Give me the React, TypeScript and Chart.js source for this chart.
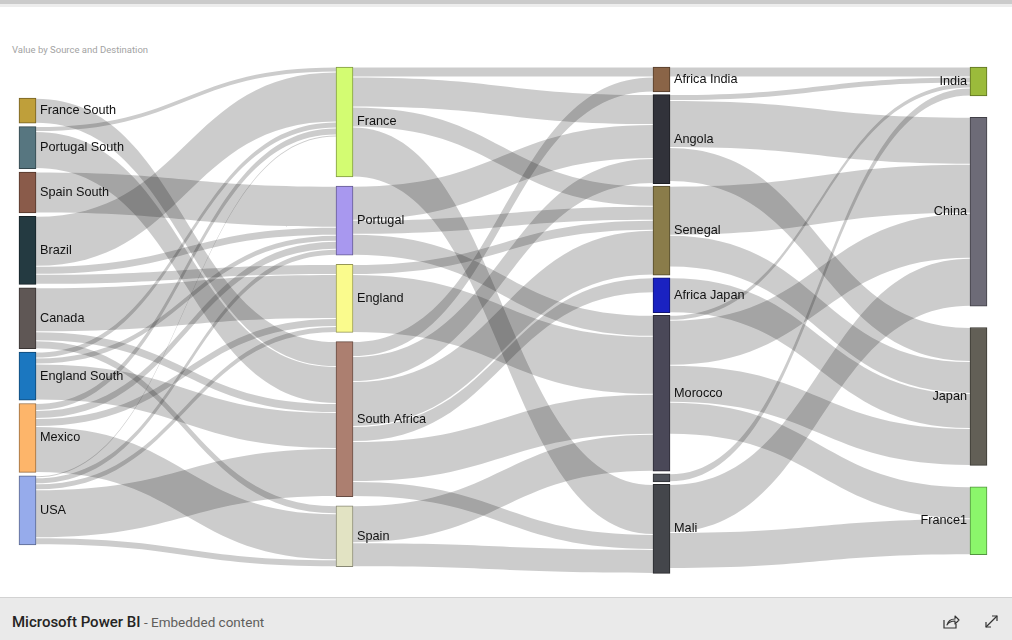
import React, { useEffect, useRef } from "react";
import { Chart, registerables } from "chart.js";

Chart.register(...registerables);

// ---- Nodes (per column, top to bottom) ----
const sourceNodes = ["France South", "Portugal South", "Spain South", "Brazil", "Canada", "England South", "Mexico", "USA"];
const hubNodes = ["France", "Portugal", "England", "South Africa", "Spain"];
const africaNodes = ["Africa India", "Angola", "Senegal", "Africa Japan", "Morocco", "(Blank)", "Mali"];
const destinationNodes = ["India", "China", "Japan", "France1"];

const sourceColors = ["#bf9f3a", "#577680", "#8a5b4a", "#243a41", "#5f5755", "#1b77c0", "#fdb56a", "#96abeb"];
const hubColors = ["#d3fc72", "#a898ef", "#fafb8d", "#ac7f70", "#e2e3c3"];
const africaColors = ["#8a6447", "#31323a", "#8a7c4a", "#1a22c1", "#4a4858", "#4e5159", "#44464b"];
const destinationColors = ["#9bbb3b", "#6d6b77", "#625f56", "#8bf66b"];

// ---- Links: [source, destination, value] ----
const stage1Links: [string, string, number][] = [
  ["France South", "South Africa", 25],
  ["Portugal South", "France", 5],
  ["Portugal South", "South Africa", 37],
  ["Spain South", "Portugal", 41],
  ["Brazil", "France", 50],
  ["Brazil", "Portugal", 8],
  ["Brazil", "England", 10],
  ["Canada", "England", 44],
  ["Canada", "South Africa", 9],
  ["Canada", "Spain", 8],
  ["England South", "France", 6],
  ["England South", "Portugal", 6],
  ["England South", "South Africa", 36],
  ["Mexico", "France", 7],
  ["Mexico", "Portugal", 8],
  ["Mexico", "England", 8],
  ["Mexico", "Spain", 46],
  ["USA", "France", 2],
  ["USA", "Portugal", 6],
  ["USA", "England", 6],
  ["USA", "South Africa", 48],
  ["USA", "Spain", 7],
];

const stage2Links: [string, string, number][] = [
  ["France", "Africa India", 10],
  ["France", "Angola", 30],
  ["France", "Senegal", 20],
  ["France", "Mali", 50],
  ["Portugal", "Angola", 34],
  ["Portugal", "Senegal", 14],
  ["Portugal", "Morocco", 21],
  ["England", "Senegal", 10],
  ["England", "Morocco", 58],
  ["South Africa", "Africa India", 15],
  ["South Africa", "Angola", 25],
  ["South Africa", "Senegal", 45],
  ["South Africa", "Africa Japan", 15],
  ["South Africa", "Morocco", 40],
  ["South Africa", "Mali", 15],
  ["Spain", "Morocco", 37],
  ["Spain", "Mali", 24],
];

const stage3Links: [string, string, number][] = [
  ["Africa India", "India", 10],
  ["Angola", "India", 6],
  ["Angola", "China", 47],
  ["Angola", "Japan", 34],
  ["Senegal", "China", 49],
  ["Senegal", "Japan", 32],
  ["Africa Japan", "Japan", 35],
  ["Morocco", "India", 5],
  ["Morocco", "China", 45],
  ["Morocco", "Japan", 37],
  ["Morocco", "France1", 32],
  ["(Blank)", "India", 8],
  ["Mali", "China", 48],
  ["Mali", "France1", 36],
];

// ---- layout options ----
const columnNames = [sourceNodes, hubNodes, africaNodes, destinationNodes];
const columnColors = [sourceColors, hubColors, africaColors, destinationColors];
const spreadColumns = [false, true, true, true];
const NODE_PAD = 2.6;
const COMPACT_PAD = 3.4;

type SNode = { name: string; col: number; idx: number; color: string; inSum: number; outSum: number; value: number; y0: number; y1: number; };
type SLink = { s: SNode; t: SNode; v: number; sy: number; ty: number };

function darken(hex: string, f = 0.6) {
  const n = parseInt(hex.slice(1), 16);
  const r = Math.round(((n >> 16) & 255) * f), g = Math.round(((n >> 8) & 255) * f), b = Math.round((n & 255) * f);
  return `rgb(${r},${g},${b})`;
}

function buildLayout() {
  const nodes: SNode[] = [];
  const byName: Record<string, SNode> = {};
  columnNames.forEach((names, col) =>
    names.forEach((name, idx) => {
      const nd: SNode = { name, col, idx, color: columnColors[col][idx], inSum: 0, outSum: 0, value: 0, y0: 0, y1: 0 };
      nodes.push(nd);
      byName[name] = nd;
    })
  );
  const links: SLink[] = [...stage1Links, ...stage2Links, ...stage3Links].map(([s, t, v]) => ({ s: byName[s], t: byName[t], v, sy: 0, ty: 0 }));
  links.forEach((l) => { l.s.outSum += l.v; l.t.inSum += l.v; });
  nodes.forEach((n) => (n.value = Math.max(n.inSum, n.outSum)));

  const cols = columnNames.map((_, c) => nodes.filter((n) => n.col === c));
  let H = 0;
  cols.forEach((cn, c) => {
    const S = cn.reduce((a, n) => a + n.value, 0);
    H = Math.max(H, spreadColumns[c] ? S + cn.length * NODE_PAD : S + (cn.length - 1) * COMPACT_PAD);
  });
  cols.forEach((cn, c) => {
    const S = cn.reduce((a, n) => a + n.value, 0);
    let gap: number, y: number;
    if (spreadColumns[c]) { gap = (H - S) / cn.length; y = 0; }
    else { gap = COMPACT_PAD; y = (H - (S + (cn.length - 1) * gap)) / 2; }
    cn.forEach((n) => { n.y0 = y; n.y1 = y + n.value; y = n.y1 + gap; });
  });
  nodes.forEach((n) => {
    let y = n.y0;
    links.filter((l) => l.s === n).sort((a, b) => a.t.idx - b.t.idx).forEach((l) => { l.sy = y; y += l.v; });
    y = n.y0;
    links.filter((l) => l.t === n).sort((a, b) => a.s.idx - b.s.idx).forEach((l) => { l.ty = y; y += l.v; });
  });
  return { nodes, links, H };
}

const NODE_W = 17;

export default function App() {
  const ref = useRef<HTMLCanvasElement | null>(null);

  useEffect(() => {
    if (!ref.current) return;
    const { nodes, links, H } = buildLayout();

    const linkPlugin = {
      id: "sankeyLinks",
      beforeDatasetsDraw(chart: any) {
        const ctx = chart.ctx, xs = chart.scales.x, ys = chart.scales.y;
        ctx.save();
        ctx.fillStyle = "rgba(0,0,0,0.2)";
        links.forEach((l) => {
          const x0 = xs.getPixelForValue(l.s.col) + NODE_W / 2;
          const x1 = xs.getPixelForValue(l.t.col) - NODE_W / 2;
          const a0 = ys.getPixelForValue(l.sy) + 0.5, a1 = ys.getPixelForValue(l.sy + l.v) - 0.5;
          const b0 = ys.getPixelForValue(l.ty) + 0.5, b1 = ys.getPixelForValue(l.ty + l.v) - 0.5;
          const xm = (x0 + x1) / 2;
          ctx.beginPath();
          ctx.moveTo(x0, a0);
          ctx.bezierCurveTo(xm, a0, xm, b0, x1, b0);
          ctx.lineTo(x1, b1);
          ctx.bezierCurveTo(xm, b1, xm, a1, x0, a1);
          ctx.closePath();
          ctx.fill();
        });
        ctx.restore();
      },
    };

    const labelPlugin = {
      id: "sankeyLabels",
      afterDatasetsDraw(chart: any) {
        const ctx = chart.ctx, xs = chart.scales.x, ys = chart.scales.y;
        ctx.save();
        ctx.font = '12.7px "Liberation Sans", Arial, sans-serif';
        ctx.fillStyle = "#111";
        ctx.textBaseline = "middle";
        nodes.forEach((n) => {
          const top = ys.getPixelForValue(n.y0), bot = ys.getPixelForValue(n.y1);
          if (bot - top < 12) return;
          const cx = xs.getPixelForValue(n.col);
          const cy = (top + bot) / 2;
          if (n.col === columnNames.length - 1) {
            ctx.textAlign = "right";
            ctx.fillText(n.name, cx - NODE_W / 2 - 3, cy);
          } else {
            ctx.textAlign = "left";
            ctx.fillText(n.name, cx + NODE_W / 2 + 4, cy);
          }
        });
        ctx.restore();
      },
    };

    const chart = new Chart(ref.current, {
      type: "bar",
      data: {
        datasets: [
          {
            data: nodes.map((n) => ({ x: n.col, y: [n.y0, n.y1] })) as any,
            backgroundColor: nodes.map((n) => n.color),
            borderColor: nodes.map((n) => darken(n.color)),
            borderWidth: 1,
            borderSkipped: false,
            barThickness: NODE_W,
            clip: false,
          } as any,
        ],
      },
      options: {
        animation: false,
        responsive: false,
        events: [],
        layout: { padding: { left: 27.5, right: 33.5, top: 59, bottom: 21 } },
        scales: {
          x: { type: "linear", min: 0, max: 3, display: false, offset: false } as any,
          y: { type: "linear", min: 0, max: H, reverse: true, display: false },
        },
        plugins: { legend: { display: false }, tooltip: { enabled: false }, title: { display: false } },
      },
      plugins: [linkPlugin, labelPlugin],
    });
    return () => chart.destroy();
  }, []);

  return (
    <div style={{ position: "fixed", left: 0, top: 0, width: 1012, height: 640, background: "#fff", overflow: "hidden" }}>
      <div style={{ position: "absolute", left: 0, top: 0, width: 1012, height: 4, background: "#cbcbcb" }} />
      <div style={{ position: "absolute", left: 0, top: 4, width: 1012, height: 3, background: "#ededed" }} />
      <div style={{ position: "absolute", left: 12, top: 44, font: '9.5px Roboto, "Liberation Sans", sans-serif', color: "#a3a3a3", whiteSpace: "nowrap" }}>
        Value by Source and Destination
      </div>
      <canvas ref={ref} width={1012} height={589} style={{ position: "absolute", left: 0, top: 8, width: 1012, height: 589 }} />
      <div style={{ position: "absolute", left: 0, top: 597, width: 1012, height: 43, background: "#eaeaea", borderTop: "1px solid #d2d2d2", boxSizing: "border-box" }}>
        <div style={{ position: "absolute", left: 12, top: 15, font: '14px Roboto, "Noto Sans", sans-serif', color: "#252423", whiteSpace: "nowrap" }}>
          <span style={{ fontWeight: 500, fontSize: 15 }}>Microsoft Power BI</span>
          <span style={{ color: "#605e5c", fontSize: 13.5 }}> - Embedded content</span>
        </div>
        <svg style={{ position: "absolute", left: 942, top: 16 }} width="18" height="16" viewBox="0 0 18 16">
          <path d="M2 6 V14 H14 V10" fill="none" stroke="#333" strokeWidth="1.2" />
          <path d="M5 11 C6 7 9 5 13 5 L13 2 L17 6 L13 10 L13 7 C10 7 7 8 5 11 Z" fill="none" stroke="#333" strokeWidth="1.1" strokeLinejoin="round" />
        </svg>
        <svg style={{ position: "absolute", left: 984, top: 16 }} width="15" height="15" viewBox="0 0 15 15">
          <path d="M2 13 L13 2" stroke="#333" strokeWidth="1.2" />
          <path d="M8 2 H13 V7" fill="none" stroke="#333" strokeWidth="1.2" />
          <path d="M2 8 V13 H7" fill="none" stroke="#333" strokeWidth="1.2" />
        </svg>
      </div>
    </div>
  );
}
